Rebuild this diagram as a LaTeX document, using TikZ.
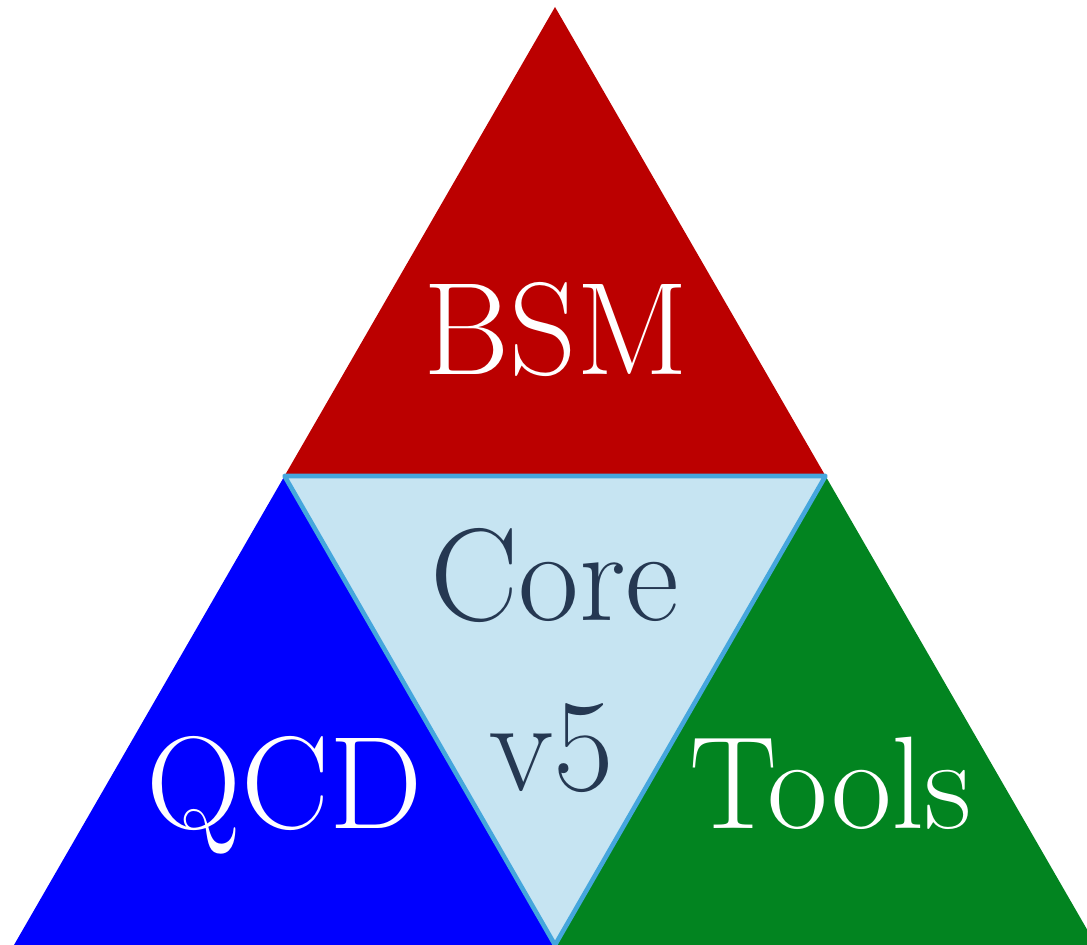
\documentclass[tikz,border=0pt]{standalone}
\usetikzlibrary{positioning,calc}
\definecolor{bsmred}{HTML}{BB0000}
\definecolor{qcdblue}{HTML}{0000FF}
\definecolor{toolgreen}{HTML}{028420}
\definecolor{corefill}{HTML}{C6E4F2}
\definecolor{coreline}{HTML}{45A6DD}
\definecolor{coretext}{HTML}{253852}

\begin{document}
\begin{tikzpicture}[
x=0.02cm, y=-0.02cm,
label/.style={font=\fontsize{75}{80}\selectfont, anchor=base, inner sep=0pt, text=white},
corelabel/.style={label, text=coretext}
]
\useasboundingbox (0,0) rectangle (1087,945);
\coordinate (top) at (555,7);
\coordinate (bl) at (14,945);
\coordinate (br) at (1096,945);
\coordinate (ml) at ($(top)!0.5!(bl)$);
\coordinate (mr) at ($(top)!0.5!(br)$);
\coordinate (mb) at ($(bl)!0.5!(br)$);
\fill[bsmred] (top)--(ml)--(mr)--cycle;
\fill[qcdblue] (ml)--(bl)--(mb)--cycle;
\fill[toolgreen] (mr)--(mb)--(br)--cycle;
\draw[fill=corefill, draw=coreline, line width=2.6pt, line join=round] (ml)--(mr)--(mb)--cycle;
\node[label] (bsm) at (556,375) {BSM};
\node[corelabel] (core) at (555,620) {Core};
\node[corelabel] (ver) at (552,790) {v5};
\node[label] (qcd) at (285,828) {QCD};
\node[label] (tools) at (831,828) {Tools};
\end{tikzpicture}
\end{document}
